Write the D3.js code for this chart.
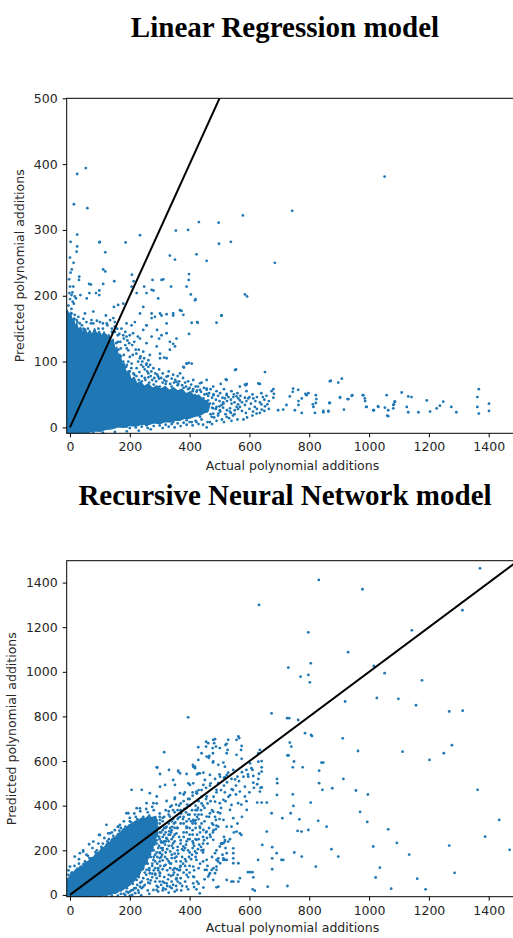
<!DOCTYPE html>
<html><head><meta charset="utf-8">
<script src="https://cdn.jsdelivr.net/npm/d3@7"></script>
<style>body{margin:0;background:#fff;} svg{display:block;}</style>
</head><body>
<svg id="fig" width="513" height="938"></svg>
<script>
// ---------- data ----------
const xTicks = [0, 200, 400, 600, 800, 1000, 1200, 1400];
const lrYTicks = [0, 100, 200, 300, 400, 500];
const rnnYTicks = [0, 200, 400, 600, 800, 1000, 1200, 1400];
const xLabel = "Actual polynomial additions";
const yLabel = "Predicted polynomial additions";

// outline of the saturated cloud of overlapping points (actual, predicted)
const lrCore = [[-9,178],[-3,170],[2,175],[6,162],[12,166],[16,152],[22,158],[28,148],[35,152],[42,144],[50,150],[58,141],[66,147],[74,140],[82,150],[90,141],[98,146],[106,138],[114,145],[122,136],[130,141],[138,130],[144,134],[150,118],[156,122],[162,106],[168,110],[174,94],[180,98],[188,82],[196,86],[204,72],[214,76],[224,66],[236,69],[248,62],[262,66],[276,59],[290,63],[304,58],[318,62],[332,56],[346,60],[360,55],[374,58],[388,51],[402,54],[416,47],[430,49],[444,42],[458,40],[466,33],[462,25],[448,22],[432,18],[416,17],[400,14],[384,14],[368,11],[352,11],[336,8],[320,9],[300,6],[280,7],[260,4],[240,5],[220,2],[200,3],[180,0],[160,1],[140,-2],[120,-3],[100,-6],[80,-5],[60,-8],[40,-7],[20,-9],[-9,-9]];
// individual (actual, predicted) points
const lrPoints = [[53,394],[24,385],[13,339],[58,333],[2,282],[24,293],[22,267],[24,275],[0,258],[98,281],[100,282],[118,266],[186,281],[234,292],[111,240],[118,237],[148,222],[207,232],[213,222],[64,218],[65,204],[98,208],[31,229],[30,224],[354,299],[431,312],[395,300],[497,311],[498,279],[538,282],[578,322],[334,261],[351,255],[423,263],[457,253],[398,233],[397,224],[404,202],[420,195],[585,202],[592,199],[276,224],[248,214],[279,208],[306,224],[312,225],[338,214],[490,159],[507,170],[425,160],[373,177],[345,170],[323,172],[306,170],[398,142],[555,88],[585,65],[635,66],[521,73],[480,49],[457,0],[390,97],[397,98],[381,91],[334,118],[315,106],[345,127],[291,148],[256,155],[298,135],[227,138],[273,166],[245,183],
[1052,381],[743,329],[685,250],[652,84],[632,66],[869,70],[872,71],[897,68],[909,74],
[1367,58],[1362,46],[1362,31],[1367,21],[1401,36],[1401,25],[1275,31],[1292,23],[1248,39],[1237,33],[1226,29],[1204,24],[1193,41],[1165,23],[1131,23],[1126,31],[1142,46],[1131,47],[1109,53],[1087,39],[1081,34],[1064,26],[1061,18],[1059,49],[1030,32],[1014,26],[992,31],[987,40],[979,49],[942,48],[928,43],[903,45],[864,24],[867,37],[847,25],[819,22],[814,31],[812,35],[791,49],[775,44],[764,34],[752,26],[775,22],[764,40],[746,59],[735,47],[724,34],[713,27],[696,26],[680,45],[682,51],[674,55],[657,48],[652,32],[641,27],[624,21],[618,31],[613,44],[591,66],[630,67],[596,44],[585,34],[568,31],[568,41],[557,47],[551,26],[535,24],[540,36],[524,51],[518,44],[507,34],[501,26],[496,21],[479,29],[479,36],[474,16],[468,8],[462,41],[457,51],[445,36],[434,26],[434,44],[423,8],[407,8],[418,49],[423,54],
[457,57],[504,66],[588,64],[568,62],[680,58],[745,54],[763,57],[787,51],[797,52],[822,49],[824,43],[822,37],[869,37],[847,23],[864,25],[903,46],[916,27],[931,43],[944,49],[981,49],[986,44],[990,31],[1016,26],[1031,31],[1053,30],[1064,17],[1083,35],[1085,39],[1081,29],
[0,214],[11,214],[5,201],[16,199],[9,191],[13,188],[20,196],[-2,204],[35,201],[56,196],[70,217],[111,218],[87,204],[98,201],[5,173],[16,171],[28,168],[22,163],[11,160],[0,158],[33,158],[50,173],[78,176],[72,163],[78,158],[100,160],[123,158],[134,163],[145,166],[150,153],[161,186],[178,188],[147,183],[189,158],[206,155],[217,160],[234,173],[245,148],[256,155],[273,173],[284,168],[301,173],[323,158],[345,173],[379,171],[368,178],[407,159],[427,159],[506,170],[390,214],[418,193],[295,196],[256,204],[273,209],[223,204],[206,214],
[189,138],[211,143],[234,135],[256,128],[273,138],[290,123],[306,140],[323,143],[334,130],[356,135],[351,123],[301,112],[323,105],[301,105],[267,110],[245,115],[234,105],[256,97],[279,90],[295,77],[379,92],[390,97],[407,97],[368,82],[323,77],[262,82],[245,92],[223,90],[206,97],[200,107],[195,117],[552,87],[524,72],[457,72],[435,67],[412,72],[356,69],
[435,57],[457,59],[479,62],[502,52],[524,49],[546,46],[563,44],[468,36],[490,31],[513,36],[535,29],[557,31],[479,21],[502,24],[524,16],[435,16],[457,24],[446,44],
[78,-7],[100,-4],[122,-2],[145,1],[167,6],[189,1],[223,6],[256,3],[290,8],[312,11],[345,8],[368,13],[390,11],[44,-7],[39,-9],[11,-7],[22,-8],[33,-4],
[180,110],[190,95],[200,85],[215,80],[185,125],[170,120],[160,130],[140,145],[120,140],[95,150],[60,150],[40,155],[30,145],[240,70],[250,75],[265,68],[280,65],[300,62],[320,66],[340,62],[360,64],[380,60],[395,58],[410,55],[165,110],[172,95],[185,85],[200,72],[215,68],[230,72],[110,150],[65,140],[45,165],[120,170],[150,145],
[155,128],[162,118],[170,108],[178,100],[188,92],[195,100],[205,90],[212,82],[222,78],[232,84],[240,78],[252,72],[262,76],[275,72],[288,70],[298,74],[310,68],[322,70],[335,66],[348,68],[362,66],[375,64],[388,62],[400,60],[412,58],[425,56],[438,54],[450,50],[462,48],[475,45],[488,42],[500,40],[512,38],[525,40],[538,42],[550,38],[562,35],[575,38],[590,40],[605,36],[620,40],[635,38],[650,42],[665,40],
[475,30],[488,28],[500,32],[512,30],[525,26],[538,22],[550,20],[562,28],[575,25],[588,22],[600,28],[612,24],[625,28],[640,35],
[470,20],[482,15],[495,18],[508,12],[520,20],[532,14],[545,18],
[200,-1],[220,0],[240,1],[260,-1],[280,2],[300,3],[320,4],[340,5],[360,6],[380,7],[400,8],[420,10],[440,12],
[140,150],[125,155],[110,158],[90,162],[70,158],[55,160],[45,150],[25,160],[15,165],[5,180],[-5,185],[0,195],[8,205],[-3,225],[6,240],[12,250],[2,235],
[160,140],[168,130],[180,135],[190,120],[198,128],[210,110],[220,118],[228,100],[238,95],[250,88],[262,92],[272,85],[285,82],[298,88],[310,82],[330,85],[345,80],[360,78],[378,75],[395,70],[420,62],[440,68],[470,58],[490,55],[515,58],[540,55],[560,52],[590,55],[610,50],[640,52],
[150,160],[158,150],[165,142],[172,150],[178,140],[185,145],[192,132],[200,140],[208,125],[215,130],[222,112],[230,118],[236,108],[242,100],[248,105],[255,95],[262,102],[268,95],[258,85],[270,78],[282,75],[292,80],[305,75],[315,72],[328,78],[340,74],[352,72],[365,70],[385,68],[405,65],[428,62],[448,60],[465,52],[480,50],[495,48],[510,45],[530,46],[548,50],[570,48],[585,45],[600,46],[625,46],[645,46],[660,35],[665,28],[650,25],[635,22],[610,18],[592,15],[580,12],[560,12],[540,10],[515,8],[490,10],[475,5],[460,8],[445,4],[430,5],[410,3],[390,4],[370,2],[350,0],[330,1],[310,-1],[270,-3],[230,-5],[190,-6],[150,-7],[110,-8]];

const rnnCore = [[-8,-6],[-8,72],[0,80],[4,96],[12,94],[18,110],[28,112],[34,128],[44,130],[52,146],[62,150],[70,166],[80,170],[88,188],[98,192],[106,210],[116,214],[124,232],[134,236],[142,254],[152,258],[160,274],[170,280],[178,296],[188,300],[198,314],[208,318],[218,330],[230,334],[240,344],[252,342],[262,352],[274,346],[284,350],[292,334],[288,318],[296,300],[290,284],[294,266],[284,252],[286,234],[276,222],[278,204],[268,192],[268,174],[258,162],[258,144],[248,134],[246,116],[236,106],[232,90],[222,80],[216,64],[206,56],[198,42],[188,36],[178,24],[166,20],[156,10],[142,8],[130,1],[114,0],[100,-4],[80,-5],[40,-7]];
const rnnPoints = [[1371,1464],[832,1412],[632,1300],[978,1370],[797,1177],[1143,1186],[1312,1276],[930,1088],[730,1019],[805,1038],[771,978],[797,986],[802,953],[1052,994],[1177,962],[1016,1026],[1026,883],[1098,879],[1157,850],[920,867],[1268,822],[1313,826],[674,814],[726,792],[733,792],[763,784],[786,725],[806,717],[809,712],[912,702],[963,645],[1112,642],[1202,605],[1250,635],[1277,671],[841,593],[833,557],[914,520],[877,478],[956,468],[996,450],[1363,471],[833,501],[805,414],[970,372],[994,327],[1435,336],[1064,294],[830,332],[858,306],[797,291],[1093,233],[1014,217],[1134,181],[1268,221],[1388,261],[1470,202],[874,205],[897,172],[822,127],[1036,122],[1022,78],[1161,73],[1286,99],[1074,28],[1189,25],[727,40],[661,37],[618,19],[611,25],
[395,796],[735,683],[740,665],[727,625],[731,625],[749,598],[778,572],[745,572],[847,593],[844,471],[745,451],[747,399],[738,366],[710,344],[767,339],[761,287],[774,284],[750,190],[775,172],[707,157],[713,157],[691,187],[676,214],[676,164],[676,115],[643,224],[658,284],[629,157],[613,79],[595,102],[602,102],[610,102],[693,501],[692,520],[692,448],[674,366],[658,414],[641,414],[626,414],[635,463],[637,480],[641,482],[626,496],[613,503],[641,553],[632,543],[641,572],[607,568],[602,590],[630,597],[641,600],[635,650],[630,635],[613,533],[596,530],[585,485],[568,463],[585,441],[562,411],[573,405],[591,381],[563,710],[566,703],[557,695],[574,668],[572,650],[557,628],[574,610],[529,695],[520,672],[527,650],[524,635],[485,698],[455,687],[429,662],[488,665],[477,658],[466,623],[464,614],[478,635],[478,593],[496,583],[513,593],[502,530],[496,501],[515,525],[518,528],[546,560],[529,548],[552,518],[541,474],[555,450],[535,447],[518,460],[513,426],[468,538],[451,515],[446,548],[418,568],[411,583],[390,542],[362,553],[425,540],[429,545],[401,493],[412,500],[468,490],[423,456],[457,441],[485,418],[468,366],[502,366],[488,336],[479,314],[496,306],[457,284],[540,403],[535,381],[546,344],[540,306],[568,276],[557,284],[573,269],[518,239],[513,232],[508,229],[529,239],[546,209],[546,187],[546,164],[563,142],[513,164],[518,157],[496,164],[502,142],[490,127],[474,112],[451,112],[485,97],[462,82],[496,37],[490,34],[446,33],[423,25],[540,60],[563,60],[568,75],
[315,640],[292,571],[206,471],[240,471],[331,560],[33,187],[44,199],[97,269],[64,227],[128,276],[161,306],[189,366],[223,389],[256,411],[290,441],[301,485],[345,515],[368,545],[412,575],[429,605],[440,635],[479,695],[482,680],[462,680],[455,665],[457,620],[501,658],[524,677],[384,459],[323,421],[351,436],
[234,37],[290,22],[357,22],[434,7],[524,67],[479,67],[546,60],[468,97],[412,82],[390,112],[345,112],[323,52],[390,37],[267,97],[457,157],[490,157],[546,142],[524,187],[423,187],[479,247],[501,217],[446,291],[423,247],
[290,572],[301,542],[362,557],[418,575],[434,545],[479,598],[518,575],[524,538],[318,493],[351,493],[368,456],[396,500],[423,463],[446,493],[490,471],[501,411],[267,456],[279,411],[234,388],[195,366],[167,314],[134,276],[100,269],[78,239],[44,194],[16,172],[0,127],[122,314],[334,351],[301,336],[323,306],[356,276],[390,306],[412,336],[434,306],[457,351],[479,373],[513,336],[524,306],[518,246],[507,231],[485,187],[513,157],[524,157],[457,112],[490,112],[446,202],[423,157],[412,127],[390,90],[356,75],[334,37],[312,30],[368,52],[412,52],[301,97],[267,52],[245,37],[211,22],[189,15],[279,22],[368,112],[334,142],[356,172],[379,217],[412,231],[345,231],[301,187],[279,157],[256,112],[223,67],[189,52],
[20,110],[30,140],[50,150],[60,175],[90,200],[110,230],[130,250],[150,290],[170,300],[200,330],[220,350],[240,340],[260,370],[280,380],[300,350],[250,320],[270,300],[290,320],[310,330],[330,360],[-5,90],[5,100],[25,95],[260,280],[275,260],[290,280],[310,290],[320,300],[340,330],[350,300],[360,340],[370,380],[380,320],[395,360],[400,400],[420,380],[430,420],
[150,10],[170,20],[190,30],[210,50],[230,80],[250,100],[260,140],[270,170],[280,200],[290,230],[300,250],[180,5],[200,15],[220,30],[240,60],[260,70],[280,110],[300,150],[320,190],[330,220],[340,250],[350,270],[200,-3],[230,10],[260,20],[290,40],[310,60],[330,90],[350,120],[370,150],[380,200],[390,240],[400,270],[410,290],[420,320],[430,340],[440,360],[450,390],[460,410],[340,30],[360,60],[380,100],[400,130],[420,170],[440,200],[460,230],[470,260],[480,290],[490,310],[500,340],
[340,180],[345,210],[350,240],[355,150],[360,200],[365,260],[370,230],[375,170],[380,280],[385,210],[390,300],[395,250],[400,190],[405,330],[410,270],[415,220],[420,300],[425,350],[430,250],[435,280],[440,320],[445,230],[335,120],[345,90],[355,70],[365,110],[375,40],[385,130],[395,80],[405,160],[415,110],[425,60],[435,140],[445,190],[340,400],[350,430],[360,380],[370,410],[380,450],[390,390],[400,430],[410,460],[420,400],[430,470],[440,440],[445,400],[338,280],[348,320],[358,300],[368,350],[378,340],[388,370],[398,340],[408,380],[418,360],[428,390],[438,380],
[250,260],[265,230],[275,215],[285,180],[295,210],[305,240],[315,270],[245,190],[255,170],[265,120],[275,140],[285,90],[295,120],[305,170],[315,130],[325,160],[310,200],[320,240],[330,270],[335,300],[240,300],[250,330],[225,320],[230,240],[245,230],
[0,80],[10,100],[25,118],[45,138],[65,165],[85,192],[105,215],[125,240],[145,265],[165,288],[185,306],[205,325],[225,340],[245,350],[265,355],[285,348],[300,365],[310,345],[320,380],[335,395],[350,370],[365,400],[380,420],[395,430],[410,445],[425,455],[440,470],[455,480],[470,500],[485,520],[500,540],
[-5,110],[15,130],[30,160],[55,180],[75,210],[95,230],[115,255],[140,280],[160,305],[180,330],[200,345],[215,365],[235,375],[255,385],[275,395],[290,410],
[290,320],[300,300],[305,280],[298,260],[290,245],[282,225],[275,200],[268,185],[260,165],[252,140],[243,125],[232,105],[220,85],[205,60],[190,45],[175,28],[160,18],[140,6],[120,1],
[310,260],[320,280],[325,250],[318,225],[310,210],[300,190],[292,170],[285,150],[275,130],[265,110],[255,90],[245,75],[235,55],[225,45],[215,30],[205,20],[195,10],[185,0],[170,5],[160,-3],[140,-4],[120,-5],[100,-6],
[340,290],[335,270],[345,260],[330,240],[340,220],[325,205],[335,195],[318,170],[310,155],[302,130],[295,110],[285,95],[275,80],[262,55],[250,45],[240,30],[228,20],[218,8],[208,0],[238,-2],[265,5],[295,15],[320,25],[345,45],[360,90],[370,130],[385,160],[395,200],[410,240],[425,270],[435,300],[450,330],[465,350],[475,380],[360,300],[370,320],[380,350],[390,330],[400,360],[415,330],[425,380],[440,410],[455,430],[470,420],[480,440],[490,460],[505,470],[515,490],[525,505],[540,520],[560,530],[575,550],[590,560],
[300,60],[315,80],[325,110],[338,140],[350,165],[362,185],[375,205],[388,225],[400,250],[410,210],[420,250],[432,225],[445,260],[455,280],[465,300],[475,320],[485,350],[495,370],[505,390],[520,420],[530,440],[545,470],[555,490],[565,510],[580,530],[595,540],[610,560],
[330,10],[350,15],[372,20],[395,25],[415,35],[430,50],[450,70],[465,90],[480,120],[495,150],[510,180],[520,210],[535,250],[548,280],[560,320],[575,350],[590,420],[600,460],[615,480],[630,520],
[295,35],[305,45],[315,55],[328,70],[338,85],[348,100],[358,115],[368,125],[378,140],[388,150],[398,170],[408,180],[418,195],[428,205],[438,215],[448,245],[458,255],[468,270],[478,280],[488,295],
[300,100],[310,115],[320,135],[330,150],[340,165],[350,185],[360,215],[370,245],[380,260],[390,280],[400,300],[410,320],[420,335],[430,360],
[305,210],[312,235],[322,255],[332,285],[342,305],[352,325],[362,345],[372,365],[382,385],[392,405],
[280,260],[300,280],[315,300],[330,320],[345,340],[300,320],[315,350],[330,375],[345,380],[355,405],
[310,20],[325,40],[340,60],[355,40],[370,75],[385,60],[400,100],[415,80],[430,120],[445,150],[460,130],[475,170],[490,200],[505,230],[515,260],
[285,60],[290,75],[300,85],[270,65],[275,95],[285,120],[292,140],[300,165],[308,180],[280,170],[290,190],[298,220],[305,235],[315,240]];

const refLine = [[0, 0], [1500, 1500]];

// ---------- drawing ----------
const svg = d3.select("#fig");
const BLUE = "#1f77b4";
const tickFont = "12.5px 'DejaVu Sans'";

function panel(cfg) {
  const { title, titleY, top, bottom, left, right, xDomain, yDomain, yTicks, core, points, yLabelX, xLabelY, id } = cfg;
  const x = d3.scaleLinear().domain(xDomain).range([left, right]);
  const y = d3.scaleLinear().domain(yDomain).range([bottom, top]);
  const g = svg.append("g");

  svg.append("clipPath").attr("id", id)
    .append("rect").attr("x", left).attr("y", top).attr("width", right - left).attr("height", bottom - top);

  g.append("text").attr("x", 285).attr("y", titleY).attr("text-anchor", "middle")
    .style("font", "bold 29px 'Liberation Serif'").attr("fill", "#000").text(title);

  const plot = g.append("g").attr("clip-path", `url(#${id})`);
  plot.append("path").datum(core)
    .attr("d", d3.line().x(d => x(d[0])).y(d => y(d[1])).curve(d3.curveLinearClosed))
    .attr("fill", BLUE).attr("stroke", BLUE).attr("stroke-width", 1.5).attr("stroke-linejoin", "round");
  plot.selectAll("circle").data(points).join("circle")
    .attr("cx", d => x(d[0])).attr("cy", d => y(d[1])).attr("r", 1.4).attr("fill", BLUE);
  plot.append("path").datum(refLine)
    .attr("d", d3.line().x(d => x(d[0])).y(d => y(d[1])))
    .attr("stroke", "#000").attr("stroke-width", 2).attr("fill", "none");

  // frame
  g.append("rect").attr("x", left).attr("y", top).attr("width", right - left).attr("height", bottom - top)
    .attr("fill", "none").attr("stroke", "#000").attr("stroke-width", 1);

  const xa = g.append("g").attr("transform", `translate(0,${bottom})`)
    .call(d3.axisBottom(x).tickValues(xTicks).tickSize(4).tickPadding(5).tickFormat(d3.format("d")));
  const ya = g.append("g").attr("transform", `translate(${left},0)`)
    .call(d3.axisLeft(y).tickValues(yTicks).tickSize(4).tickPadding(5).tickFormat(d3.format("d")));
  [xa, ya].forEach(a => {
    a.select(".domain").remove();
    a.selectAll(".tick line").attr("stroke", "#000");
    a.selectAll(".tick text").style("font", tickFont).attr("fill", "#262626");
  });

  g.append("text").attr("x", (left + right) / 2).attr("y", xLabelY).attr("text-anchor", "middle")
    .style("font", tickFont).attr("fill", "#262626").text(xLabel);
  g.append("text").attr("transform", `translate(${yLabelX},${(top + bottom) / 2}) rotate(-90)`)
    .attr("text-anchor", "middle").style("font", tickFont).attr("fill", "#262626").text(yLabel);
}

panel({ id: "clipLR", title: "Linear Regression model", titleY: 37, top: 98.3, bottom: 433.3, left: 66.7, right: 518.3,
  xDomain: [-11, 1499], yDomain: [-9, 500], yTicks: lrYTicks, core: lrCore, points: lrPoints, yLabelX: 24, xLabelY: 470 });
panel({ id: "clipRNN", title: "Recursive Neural Network model", titleY: 505, top: 560.7, bottom: 896.7, left: 66.7, right: 518.3,
  xDomain: [-11, 1499], yDomain: [-8, 1498], yTicks: rnnYTicks, core: rnnCore, points: rnnPoints, yLabelX: 16, xLabelY: 932 });
</script>
</body></html>
